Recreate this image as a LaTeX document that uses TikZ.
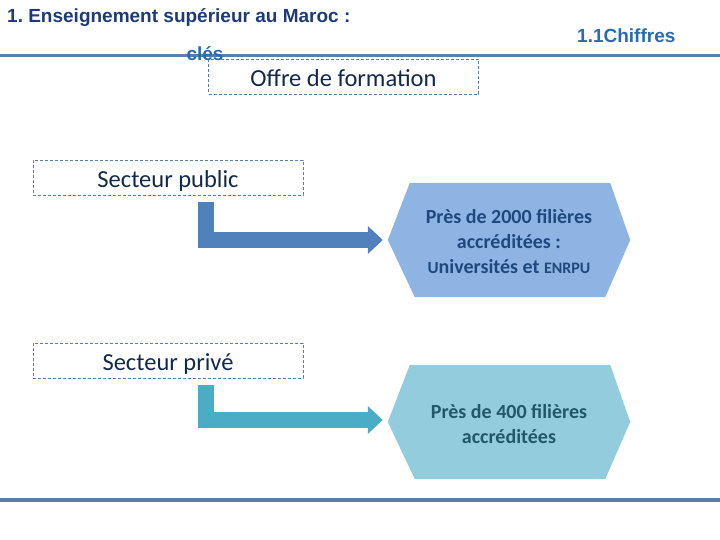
\documentclass[tikz,border=0pt]{standalone}
\usepackage{fontspec}
\setmainfont{Carlito}
\newfontfamily\hdfont{Liberation Sans}
\usetikzlibrary{arrows.meta,calc}
\frenchspacing
\definecolor{navy}{HTML}{1F3A78}
\definecolor{hblue}{HTML}{2A6BB0}
\definecolor{rule}{HTML}{5A7FA8}
\definecolor{dashc}{HTML}{5A7FA8}
\definecolor{boxtext}{HTML}{13294B}
\definecolor{hexA}{HTML}{8EB4E3}
\definecolor{hexAtext}{HTML}{1F497D}
\definecolor{hexB}{HTML}{93CDDD}
\definecolor{hexBtext}{HTML}{215868}
\definecolor{arrA}{HTML}{4F81BD}
\definecolor{arrB}{HTML}{4BACC6}
\tikzset{
  dbox/.style={draw=dashc, dashed, dash pattern=on 3pt off 2pt, line width=0.8pt, fill=white,
    minimum width=270pt, minimum height=35pt, inner sep=0pt, text=boxtext,
    text height=20pt, text depth=0pt, font=\fontsize{24.5}{28}\selectfont},
  hexnode/.style={minimum width=242pt, minimum height=114pt, inner sep=0pt, align=center,
    font=\fontsize{20}{25}\selectfont\bfseries},
  bigarrow/.style={line width=16pt, line join=miter, line cap=butt,
    -{Triangle[length=15pt,width=27pt]}, shorten >=5pt},
  rulestyle/.style={draw=rule, line width=3pt},
  hdr/.style={inner sep=0pt, font=\hdfont\bfseries\fontsize{19}{21}\selectfont}
}
\begin{document}
\begin{tikzpicture}[x=1pt,y=-1pt]
\useasboundingbox (0,0) rectangle (720,540);
% rules
\coordinate (r1l) at (0,56); \coordinate (r1r) at (720,56);
\coordinate (r2l) at (0,500); \coordinate (r2r) at (720,500);
\draw[rulestyle] (r1l) -- (r1r);
\draw[rulestyle, line width=3.5pt] (r2l) -- (r2r);
% headers
\node[hdr, anchor=west, text=navy] (title) at (7,18) {1. Enseignement supérieur au Maroc :};
\node[hdr, anchor=west, text=hblue] (sub) at (577,36) {1.1Chiffres};
% boxes
\node[dbox] (offre) at (343.5,76.5) {Offre de formation};
\node[hdr, text=hblue] (cles) at (205,54) {clés};
\node[dbox] (pub) at (168,178) {Secteur public};
\node[dbox] (priv) at (168,360.5) {Secteur privé};
% hexagons
\node[hexnode] (h1) at (509,240) {};
\fill[hexA] (h1.west) -- ($(h1.north west)+(22,0)$) -- ($(h1.north east)+(-20,0)$) -- (h1.east)
  -- ($(h1.south east)+(-25,0)$) -- ($(h1.south west)+(27,0)$) -- cycle;
\node[hexnode, text=hexAtext] (t1) at ($(h1.center)+(0,2)$) {Près de 2000 filières\\accréditées :\\{\fontsize{17}{25}\selectfont U}niversités et {\fontsize{16}{25}\selectfont ENRPU}};
\node[hexnode] (h2) at (509,422) {};
\fill[hexB] (h2.west) -- ($(h2.north west)+(22,0)$) -- ($(h2.north east)+(-20,0)$) -- (h2.east)
  -- ($(h2.south east)+(-25,0)$) -- ($(h2.south west)+(27,0)$) -- cycle;
\node[hexnode, text=hexBtext] (t2) at ($(h2.center)+(0,2)$) {Près de 400 filières\\accréditées};
% arrows
\coordinate (s1) at (206,202);
\coordinate (s2) at (206,385);
\draw[bigarrow, draw=arrA] (s1) |- (h1.west);
\draw[bigarrow, draw=arrB] (s2) |- ($(h2.west)+(0,-2)$);
\end{tikzpicture}
\end{document}
